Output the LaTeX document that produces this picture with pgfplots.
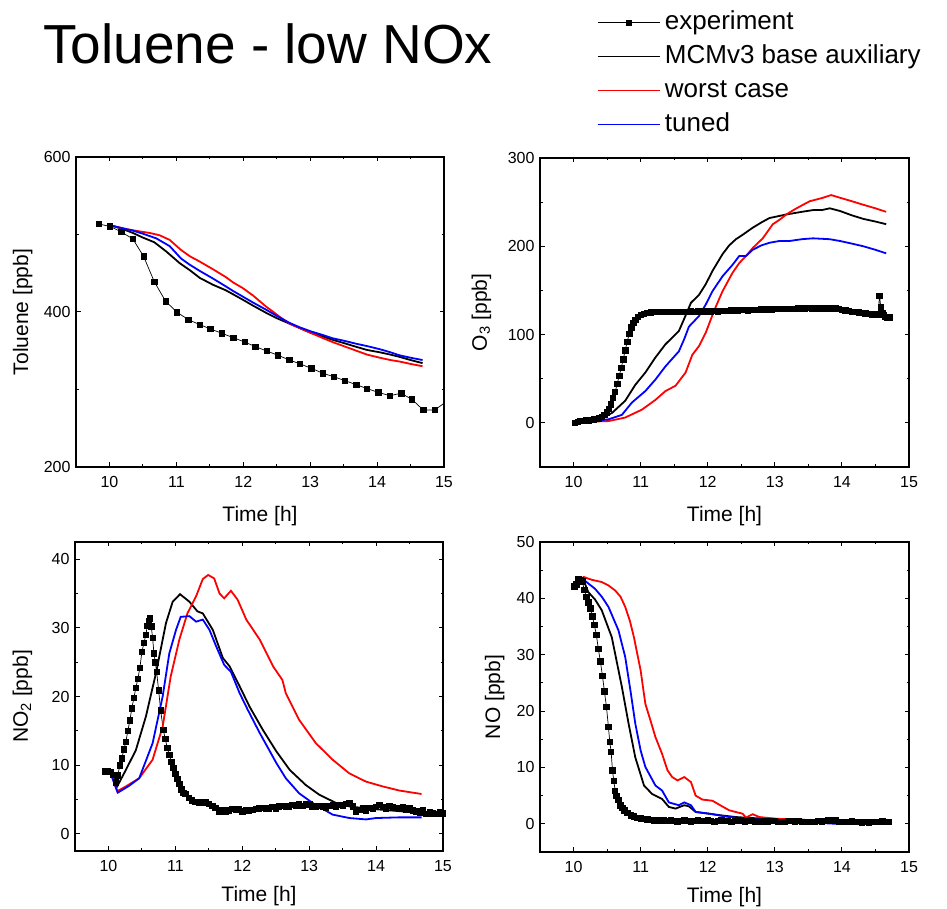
\documentclass[border=0pt]{standalone}
\usepackage{fontspec}
\setmainfont{Liberation Sans}
\usepackage{pgfplots}
\pgfplotsset{compat=1.18}
\newcommand\labfont{\fontsize{21}{24}\selectfont}
\pgfplotsset{
 panel/.style={
  scale only axis, width=368pt, height=310pt, anchor=south west,
  xmin=9.5, xmax=15, xtick={10,11,12,13,14,15}, minor x tick num=1, minor y tick num=1,
  tick align=inside, major tick length=4.5pt, minor tick length=2.5pt,
  axis line style={line width=1.2pt}, every tick/.style={line width=1pt, black},
  every tick label/.append style={font=\fontsize{16}{18}\selectfont},
  xticklabel style={yshift=-6pt},
  yticklabel style={xshift=-2pt},
  /pgf/number format/assume math mode=true,
  xlabel={Time [h]},
  every axis x label/.style={at={(axis description cs:0.5,-0.177)}, anchor=base, font=\labfont},
  legend image code/.code={\draw[#1, mark repeat=2, mark phase=2] plot coordinates {(0pt,0pt) (31pt,0pt) (62pt,0pt)};},
 },
 lowpanel/.style={every axis x label/.style={at={(axis description cs:0.5,-0.163)}, anchor=base, font=\labfont}},
 expt/.style={black, line width=0.7pt, mark=square*, mark size=2.7pt, mark options={solid}},
 model/.style={line width=1.8pt, no marks},
}
\begin{document}
\begin{tikzpicture}
\useasboundingbox (0,0) rectangle (947pt,909pt);
\node[anchor=base west, inner sep=0pt, font=\fontsize{55}{60}\selectfont] at (43pt,845pt) {Toluene - low NOx};

% ---------- Toluene ----------
\begin{axis}[panel, at={(76pt,442pt)}, ymin=200, ymax=600, ytick={200,400,600},
  ylabel={Toluene [ppb]},
  every axis y label/.style={at={(axis description cs:-0.130,0.5)}, rotate=90, anchor=base, font=\labfont}]
\addplot[expt] coordinates {(9.84,513.5)(10.01,510.5)(10.18,503.2)(10.35,494.2)(10.51,471.8)(10.67,439.1)(10.84,413.8)(11.01,399.6)(11.18,390.1)(11.35,383.7)(11.51,378.1)(11.68,372.5)(11.85,366.9)(12.02,361.3)(12.18,355.3)(12.35,349.7)(12.52,344.1)(12.69,338.1)(12.85,332.9)(13.02,327.3)(13.19,320.9)(13.35,316.6)(13.52,311.4)(13.69,306.2)(13.85,301.1)(14.02,296.3)(14.19,292.0)(14.36,295.1)(14.52,287.3)(14.69,273.5)(14.86,273.5)(15.03,284)};
\addplot[model, black] coordinates {(10.05,511)(10.2,507)(10.35,502)(10.5,496)(10.67,490)(10.85,478)(11.05,463)(11.2,454)(11.35,444)(11.55,435)(11.74,428)(11.99,416)(12.15,408)(12.34,399)(12.5,392)(12.69,385)(12.85,379)(13.01,373)(13.2,368)(13.34,364)(13.5,360)(13.69,355)(13.85,351)(14.04,348)(14.2,345)(14.34,342)(14.5,338)(14.68,334)};
\addplot[model, red] coordinates {(10.05,511)(10.25,507)(10.45,504)(10.6,502)(10.75,499)(10.9,493)(11.07,480)(11.2,472)(11.35,465)(11.55,455)(11.74,445)(11.85,438)(11.99,431)(12.15,421)(12.34,407)(12.45,400)(12.54,394)(12.69,385)(12.85,379)(13.01,373)(13.2,366)(13.34,361)(13.5,356)(13.69,350)(13.85,345)(14.04,341)(14.2,338)(14.34,336)(14.5,333)(14.68,330)};
\addplot[model, blue] coordinates {(10.05,511)(10.2,508)(10.35,505)(10.5,501)(10.7,495)(10.9,485)(11.07,469)(11.2,461)(11.35,453)(11.55,443)(11.74,433)(11.85,427)(11.99,420)(12.15,412)(12.34,403)(12.5,395)(12.69,386)(12.85,380)(13.01,375)(13.2,370)(13.34,366)(13.5,363)(13.69,359)(13.85,356)(14.04,352)(14.2,348)(14.34,344)(14.5,341)(14.68,338)};
\end{axis}

% ---------- O3 ----------
\begin{axis}[panel, at={(540pt,442pt)}, width=369pt, height=309pt, ymin=-50, ymax=300, ytick={0,100,200,300},
  ylabel={O\textsubscript{3} [ppb]},
  every axis y label/.style={at={(axis description cs:-0.144,0.5)}, rotate=90, anchor=base, font=\labfont},
  legend style={at={(axis description cs:0.153,1.489)}, anchor=north west, draw=none, fill=none,
    font=\fontsize{26}{30}\selectfont, row sep=3pt, inner sep=0pt,
    nodes={inner xsep=4.5pt, inner ysep=3pt, text height=19pt, text depth=6pt}},
  legend cell align=left]
\addplot[expt] coordinates {(10.02,0)(10.06,1)(10.10,2)(10.14,2.5)(10.18,3)(10.22,3)(10.26,3.5)(10.30,4)(10.34,4.5)(10.38,5)(10.42,7)(10.46,9)(10.50,12)(10.53,16)(10.56,21)(10.59,28)(10.62,35)(10.65,44)(10.68,53)(10.71,62)(10.74,72)(10.77,82)(10.80,92)(10.83,101)(10.86,108)(10.89,113)(10.92,117)(10.96,120)(11.00,122)(11.05,123.5)(11.10,124.5)(11.15,125)(11.20,125.5)(11.25,125.5)(11.30,126)(11.35,125.5)(11.40,126)(11.45,125.5)(11.50,126)(11.55,125.8)(11.60,126)(11.65,125.5)(11.70,126)(11.75,126.3)(11.80,126)(11.85,126.5)(11.90,126.2)(11.95,126.5)(12.00,126)(12.05,126.5)(12.10,126.8)(12.15,126.5)(12.20,127)(12.25,126.8)(12.30,127)(12.35,127.2)(12.40,127)(12.45,127.5)(12.50,127.8)(12.55,128)(12.60,127.5)(12.65,128)(12.70,128.2)(12.75,128)(12.80,128.5)(12.85,128.3)(12.90,128.7)(12.95,128.5)(13.00,129)(13.05,128.8)(13.10,129)(13.15,129.2)(13.20,129)(13.25,129.3)(13.30,129)(13.35,129.5)(13.40,129.8)(13.45,129.5)(13.50,130)(13.55,129.6)(13.60,130.2)(13.65,129.8)(13.70,129.5)(13.75,129.8)(13.80,129.6)(13.85,129.8)(13.90,129.5)(13.95,129)(14.00,128)(14.05,127.5)(14.10,126.8)(14.15,126)(14.20,125.5)(14.25,125)(14.30,124.5)(14.35,124)(14.40,123.5)(14.45,123)(14.50,122.5)(14.54,123)(14.56,144)(14.58,131)(14.60,124)(14.62,122)(14.65,120)(14.68,119)(14.71,119.5)};
\addlegendentry{experiment}
\addplot[model, black] coordinates {(10.02,0)(10.2,3)(10.42,6)(10.57,11)(10.77,25)(10.92,43)(11.07,57)(11.22,74)(11.37,89)(11.57,104)(11.65,118)(11.75,136)(11.87,145)(11.97,157)(12.07,172)(12.22,191)(12.32,201)(12.42,208)(12.52,213)(12.67,221)(12.8,227)(12.92,232)(13.17,236)(13.4,239)(13.57,241)(13.7,241)(13.82,243)(13.97,240)(14.15,235)(14.32,231)(14.5,228)(14.66,225)};
\addlegendentry{MCMv3 base auxiliary}
\addplot[model, red] coordinates {(10.02,0)(10.3,1.5)(10.52,2)(10.77,6)(11.02,15)(11.22,26)(11.37,36)(11.52,42)(11.67,57)(11.77,77)(11.87,87)(11.97,102)(12.1,128)(12.22,149)(12.37,170)(12.47,181)(12.57,189)(12.67,198)(12.82,209)(12.97,225)(13.07,230)(13.17,236)(13.3,242)(13.42,247)(13.52,251)(13.62,253)(13.72,255)(13.84,258)(13.97,255)(14.15,251)(14.32,247)(14.5,243)(14.66,239)};
\addlegendentry{worst case}
\addplot[model, blue] coordinates {(10.02,0)(10.3,2)(10.52,4)(10.72,9)(10.87,23)(11.07,36)(11.22,49)(11.37,64)(11.57,81)(11.65,95)(11.72,109)(11.87,121)(11.97,134)(12.07,149)(12.22,166)(12.37,179)(12.47,189)(12.57,189)(12.67,196)(12.8,201)(12.92,204)(13.07,206)(13.22,206)(13.4,208)(13.57,209)(13.82,208)(13.97,206)(14.15,203)(14.32,200)(14.5,196)(14.66,192)};
\addlegendentry{tuned}
\end{axis}

% ---------- NO2 ----------
\begin{axis}[panel, lowpanel, at={(75pt,58pt)}, height=309pt, ymin=-2.5, ymax=42.5, ytick={0,10,20,30,40},
  ylabel={NO\textsubscript{2} [ppb]},
  every axis y label/.style={at={(axis description cs:-0.128,0.5)}, rotate=90, anchor=base, font=\labfont}]
\addplot[expt] coordinates {(9.95,9.1)(9.99,9.2)(10.03,9.0)(10.07,8.6)(10.11,7.5)(10.14,8.5)(10.17,10)(10.20,11)(10.23,12.3)(10.26,13.4)(10.29,15)(10.32,16.5)(10.35,18.3)(10.38,19.8)(10.41,21.3)(10.44,22.6)(10.47,24.2)(10.50,26.5)(10.53,27.8)(10.56,29)(10.58,30.3)(10.60,31.0)(10.62,31.4)(10.64,30.2)(10.66,28.5)(10.68,26.3)(10.70,25.0)(10.72,23.6)(10.75,20.9)(10.78,18)(10.82,15.1)(10.85,13.8)(10.88,12.5)(10.91,11.5)(10.94,10.5)(10.97,9.6)(11.00,8.7)(11.03,8.0)(11.06,7.3)(11.09,6.5)(11.12,6.0)(11.15,5.8)(11.20,5.2)(11.25,4.9)(11.30,4.7)(11.35,4.6)(11.40,4.5)(11.45,4.6)(11.50,4.4)(11.55,4.1)(11.60,3.8)(11.65,3.3)(11.70,3.4)(11.75,3.2)(11.80,3.4)(11.85,3.6)(11.90,3.5)(11.95,3.6)(12.00,3.3)(12.05,3.4)(12.10,3.4)(12.15,3.5)(12.20,3.6)(12.25,3.7)(12.30,3.8)(12.35,3.6)(12.40,3.7)(12.45,3.9)(12.50,3.7)(12.55,4.0)(12.60,4.1)(12.65,3.9)(12.70,4.0)(12.75,4.2)(12.80,4.1)(12.85,4.3)(12.90,4.1)(12.95,4.4)(13.00,4.3)(13.05,4.0)(13.10,3.9)(13.15,4.1)(13.20,4.0)(13.25,3.8)(13.30,4.1)(13.35,4.2)(13.40,4.0)(13.45,4.2)(13.50,4.1)(13.55,4.4)(13.60,4.5)(13.65,4.0)(13.70,3.3)(13.75,3.5)(13.80,3.7)(13.85,3.4)(13.90,3.8)(13.95,3.6)(14.00,3.9)(14.05,4.2)(14.10,3.9)(14.15,3.7)(14.20,4.1)(14.25,3.9)(14.30,3.8)(14.35,3.6)(14.40,3.9)(14.45,3.5)(14.50,3.7)(14.55,3.4)(14.60,3.3)(14.65,3.1)(14.70,3.4)(14.75,2.9)(14.80,3.2)(14.85,3.0)(14.90,2.9)(14.95,3.1)(15.00,3.0)};
\addplot[model, black] coordinates {(10.06,8.1)(10.13,6.9)(10.26,9.3)(10.41,12.2)(10.56,17.1)(10.71,23.4)(10.86,30.7)(10.96,33.8)(11.07,34.9)(11.21,33.8)(11.33,32.4)(11.41,32.1)(11.56,29.7)(11.71,25.6)(11.81,24.4)(11.96,21.5)(12.11,18.5)(12.31,15.1)(12.51,12.0)(12.71,9.3)(12.95,7.1)(13.15,5.7)(13.4,4.5)(13.6,4.0)(13.85,3.7)(14.1,3.5)(14.35,3.3)(14.68,3.1)};
\addplot[model, red] coordinates {(10.06,8.1)(10.13,6.2)(10.26,6.9)(10.46,8.1)(10.66,10.8)(10.81,15.6)(10.93,22.9)(11.06,28.3)(11.18,32.1)(11.31,34.6)(11.41,37.1)(11.49,37.7)(11.58,37.2)(11.66,35.0)(11.73,34.3)(11.83,35.4)(11.93,34.1)(12.06,31.2)(12.26,28.3)(12.46,24.4)(12.6,22.4)(12.65,20.5)(12.85,16.6)(13.1,13.2)(13.35,10.8)(13.6,8.8)(13.85,7.6)(14.1,6.9)(14.35,6.3)(14.68,5.8)};
\addplot[model, blue] coordinates {(10.06,8.1)(10.14,6.0)(10.31,7.0)(10.46,8.1)(10.66,13.2)(10.81,20.0)(10.91,26.3)(11.01,29.7)(11.08,31.6)(11.21,31.7)(11.31,30.9)(11.41,31.2)(11.51,29.7)(11.61,27.3)(11.73,24.6)(11.83,23.6)(11.96,20.5)(12.08,18.1)(12.26,14.7)(12.51,10.3)(12.65,8.1)(12.85,5.9)(13.05,4.5)(13.35,2.8)(13.6,2.3)(13.85,2.1)(14.0,2.3)(14.35,2.4)(14.68,2.4)};
\end{axis}

% ---------- NO ----------
\begin{axis}[panel, lowpanel, at={(540pt,57pt)}, width=369pt, ymin=-5, ymax=50, ytick={0,10,20,30,40,50},
  ylabel={NO [ppb]},
  every axis y label/.style={at={(axis description cs:-0.108,0.5)}, rotate=90, anchor=base, font=\labfont}]
\addplot[expt] coordinates {(10.01,42.1)(10.04,42.5)(10.07,43.4)(10.10,43.3)(10.13,43.0)(10.16,41.5)(10.19,40.3)(10.22,39.3)(10.25,38.2)(10.28,36.8)(10.31,35.3)(10.34,33.5)(10.37,31.0)(10.40,28.8)(10.43,26.3)(10.46,23.5)(10.49,20.8)(10.52,17.2)(10.54,14.5)(10.56,12.8)(10.58,9.5)(10.60,7.6)(10.62,5.9)(10.64,5.0)(10.67,4.2)(10.70,3.3)(10.73,2.8)(10.76,2.4)(10.80,1.9)(10.85,1.5)(10.90,1.3)(10.95,1.1)(11.00,1.0)(11.05,0.9)(11.10,0.8)(11.15,0.7)(11.20,0.6)(11.25,0.6)(11.30,0.5)(11.35,0.6)(11.40,0.5)(11.45,0.6)(11.50,0.5)(11.55,0.4)(11.60,0.5)(11.65,0.6)(11.70,0.5)(11.75,0.4)(11.80,0.5)(11.85,0.6)(11.90,0.5)(11.95,0.5)(12.00,0.6)(12.05,0.5)(12.10,0.4)(12.15,0.5)(12.20,0.6)(12.25,0.5)(12.30,0.5)(12.35,0.4)(12.40,0.5)(12.45,0.6)(12.50,0.5)(12.55,0.4)(12.60,0.5)(12.65,0.5)(12.70,0.4)(12.75,0.3)(12.80,0.4)(12.85,0.5)(12.90,0.4)(12.95,0.5)(13.00,0.5)(13.05,0.4)(13.10,0.3)(13.15,0.4)(13.20,0.5)(13.25,0.5)(13.30,0.4)(13.35,0.5)(13.40,0.4)(13.45,0.3)(13.50,0.4)(13.55,0.3)(13.60,0.4)(13.65,0.5)(13.70,0.4)(13.75,0.5)(13.80,0.6)(13.85,0.5)(13.90,0.6)(13.95,0.4)(14.00,0.3)(14.05,0.4)(14.10,0.3)(14.15,0.5)(14.20,0.4)(14.25,0.3)(14.30,0.2)(14.35,0.3)(14.40,0.2)(14.45,0.3)(14.50,0.4)(14.55,0.4)(14.60,0.5)(14.65,0.4)(14.70,0.3)};
\addplot[model, black] coordinates {(10.02,42.3)(10.15,43.2)(10.22,41.1)(10.32,39.8)(10.42,37.9)(10.57,33.1)(10.72,24.3)(10.82,17.8)(10.92,11.8)(11.05,6.8)(11.17,5.3)(11.32,4.4)(11.42,3.0)(11.52,2.7)(11.65,3.3)(11.72,3.1)(11.82,2.1)(12.02,1.8)(12.2,1.5)(12.42,1.2)(12.7,1.0)(12.92,0.9)(13.42,0.7)(13.92,0.6)(14.3,0.5)(14.67,0.4)};
\addplot[model, red] coordinates {(10.02,42.3)(10.15,43.8)(10.27,43.3)(10.42,42.9)(10.52,42.3)(10.62,41.4)(10.7,40.3)(10.77,38.5)(10.84,36.0)(10.9,33.1)(11.0,27.2)(11.07,21.3)(11.15,18.2)(11.22,15.4)(11.32,12.4)(11.4,9.5)(11.47,8.3)(11.55,7.7)(11.65,8.3)(11.75,7.4)(11.82,5.0)(11.92,4.3)(12.07,4.1)(12.2,3.2)(12.32,2.4)(12.45,2.0)(12.52,1.8)(12.57,1.1)(12.67,1.7)(12.77,1.2)(13.02,0.9)(13.42,0.7)(13.92,0.3)(14.3,0.2)(14.67,0.1)};
\addplot[model, blue] coordinates {(10.02,42.3)(10.15,43.3)(10.32,41.7)(10.42,40.3)(10.52,38.5)(10.67,34.3)(10.77,29.6)(10.85,23.5)(10.92,17.8)(11.0,13.0)(11.07,10.1)(11.22,6.8)(11.32,5.9)(11.42,3.8)(11.57,3.3)(11.65,3.8)(11.75,3.3)(11.82,2.1)(12.02,1.8)(12.32,1.2)(12.6,0.9)(12.92,0.6)(13.42,0.3)(13.92,0)(14.67,0)};
\end{axis}
\end{tikzpicture}
\end{document}
